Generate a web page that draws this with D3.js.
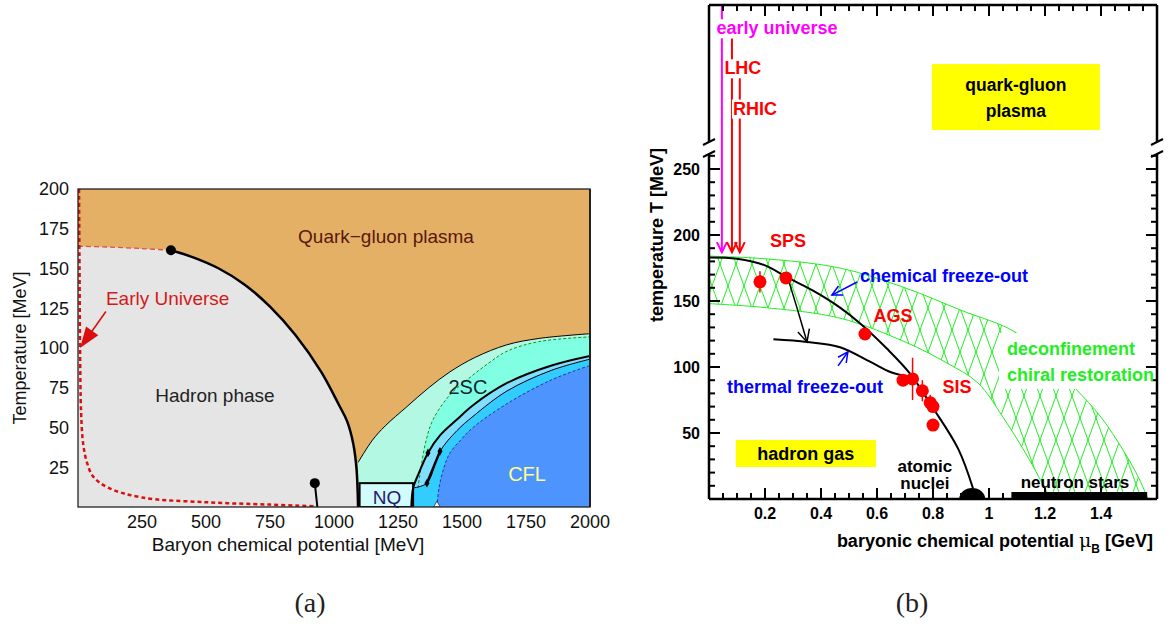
<!DOCTYPE html>
<html>
<head>
<meta charset="utf-8">
<script src="https://cdn.jsdelivr.net/npm/d3@7"></script>
<style>
body { margin: 0; background: #fff; }
svg { display: block; }
text { font-family: "Liberation Sans", Arial, Helvetica, sans-serif; }
</style>
</head>
<body>
<div id="svg-container"></div>
<script>
// ---------- panel (a): QCD phase diagram, MeV ----------
var tempTicksA = [25, 50, 75, 100, 125, 150, 175, 200];
var muTicksA = [250, 500, 750, 1000, 1250, 1500, 1750, 2000];

var crossoverA = [[0, 164], [120, 163.5], [250, 162.5], [363, 161.5]];
var hadronBoundaryA = [[363, 161.5], [450, 157], [550, 150], [650, 140], [750, 126], [850, 108],
	[950, 85], [1020, 64], [1051, 54], [1075, 40], [1088, 24], [1094, 0]];
var critPointA = [363, 161.5];
var nuclearPointA = [[925, 15], [935, 0]];
var earlyUniverseA = [[4, 200], [6, 150], [8, 100], [12, 60], [20, 40], [35, 28], [60, 19],
	[120, 12], [250, 6], [500, 3], [750, 1.5], [930, 0.4]];
var nqBoxA = [[1100, 0], [1309, 15]];
var sc2UpperA = [[1094, 28], [1150, 42], [1200, 51], [1284, 63], [1370, 75], [1453, 85],
	[1550, 94], [1675, 102], [1800, 106], [2000, 109]];
var gapDashA = [[1328, 12], [1340, 25], [1360, 42], [1387, 55], [1450, 70], [1520, 80],
	[1600, 90], [1676, 98], [1800, 104], [2000, 107]];
var cflThickA = [[1302, 0], [1309, 12], [1328, 20], [1367, 34], [1414, 45], [1480, 55],
	[1543, 64], [1676, 78], [1850, 89], [2000, 95]];
var cflThinA = [[1309, 12], [1363, 15], [1414, 35], [1480, 48], [1543, 57], [1676, 73],
	[1850, 86], [2000, 93]];
var cflDashA = [[1402, 0], [1410, 12], [1430, 25], [1453, 34], [1500, 43], [1543, 50],
	[1676, 65], [1850, 80], [2000, 89]];
var diamondsA = [[1367, 34], [1414, 35], [1363, 15]];
var trianglePointA = [1402, 0];

// ---------- panel (b): freeze-out diagram, GeV / MeV ----------
var tempTicksB = [50, 100, 150, 200, 250];
var muTicksB = [0.2, 0.4, 0.6, 0.8, 1, 1.2, 1.4];

var bandUpperB = [[0, 184], [0.2, 182], [0.468, 175], [0.7, 160], [0.9, 143], [1.093, 126.5],
	[1.2, 106], [1.307, 84], [1.4, 62], [1.479, 37], [1.53, 18], [1.568, 0]];
var bandLowerB = [[0, 148], [0.2, 145], [0.468, 137], [0.7, 119], [0.85, 103], [0.96, 88],
	[1.05, 62], [1.13, 35], [1.2, 8], [1.22, 0]];
var chemFreezeB = [[0, 183], [0.1, 182], [0.2, 177], [0.278, 168], [0.37, 158], [0.468, 145],
	[0.54, 133], [0.635, 114], [0.718, 95], [0.8, 69], [0.89, 38], [0.943, 8]];
var thermFreezeB = [[0.23, 121], [0.35, 119], [0.468, 115], [0.575, 104], [0.65, 96], [0.725, 92]];
var spsArrowB = [[0.282, 167], [0.314, 145], [0.35, 119]];
// [mu, T, error]
var spsPointsB = [[0.182, 164.5, 8], [0.275, 167.5, 0]];
var agsPointsB = [[0.557, 125, 0]];
var sisPointsB = [[0.693, 90, 0], [0.727, 91, 16], [0.762, 82, 8], [0.79, 73, 6], [0.80, 70, 0], [0.80, 56, 0]];
// collider trajectories: [mu, T start, T end]
var earlyUniverseB = [0.046, 374, 187];
var lhcB = [0.082, 349, 187];
var rhicB = [0.11, 320, 187];
var nucleiB = [0.94, 0];
var neutronStarsB = [1.08, 1.565];

function createScale(range, dom) {
	return d3.scaleLinear().range(range).domain(dom);
}

function toL(path) {
	return 'L' + path.slice(1);
}

var svg = d3.select('#svg-container').append('svg')
	.attr('width', 1176)
	.attr('height', 627);
var defs = svg.append('defs');

// ======================= panel (a) =======================
var xA = createScale([78, 590], [0, 2000]);
var yA = createScale([507, 189], [0, 200]);
var lineA = d3.line().x(function(d){ return xA(d[0]) }).y(function(d){ return yA(d[1]) })
	.curve(d3.curveCatmullRom.alpha(0.5));

function rightOf(curve) {
	return lineA(curve) + 'L' + xA(2000) + ',' + yA(0) + 'L' + xA(curve[0][0]) + ',' + yA(0) + 'Z';
}

defs.append('clipPath').attr('id', 'clipA').append('rect')
	.attr('x', xA(0)).attr('y', yA(200))
	.attr('width', xA(2000) - xA(0)).attr('height', yA(0) - yA(200));

var gA = svg.append('g');
var plotA = gA.append('g').attr('clip-path', 'url(#clipA)');

plotA.append('rect')
	.attr('x', xA(0)).attr('y', yA(200))
	.attr('width', xA(2000) - xA(0)).attr('height', yA(0) - yA(200))
	.attr('fill', '#E3B066');
plotA.append('path').attr('d', rightOf(sc2UpperA)).attr('fill', '#B3F8E2');
plotA.append('path').attr('d', rightOf(gapDashA)).attr('fill', '#80FFE3');
plotA.append('path').attr('d', rightOf(cflThickA)).attr('fill', '#33CCFF');
plotA.append('path')
	.attr('d', lineA(cflThickA.slice(1)) + toL(lineA(cflThinA.slice().reverse())) + 'Z')
	.attr('fill', '#80DFFF');
plotA.append('path').attr('d', rightOf(cflDashA)).attr('fill', '#4D94FF');

plotA.append('rect')
	.attr('x', xA(nqBoxA[0][0])).attr('y', yA(nqBoxA[1][1]))
	.attr('width', xA(nqBoxA[1][0]) - xA(nqBoxA[0][0]))
	.attr('height', yA(nqBoxA[0][1]) - yA(nqBoxA[1][1]))
	.attr('fill', '#D2FBFB').attr('stroke', '#000').attr('stroke-width', 2);

plotA.append('path')
	.attr('d', 'M' + xA(0) + ',' + yA(0) + toL(lineA(crossoverA.concat(hadronBoundaryA.slice(1)))) + 'Z')
	.attr('fill', '#E5E5E5');

// phase boundaries
plotA.append('path').attr('d', lineA(sc2UpperA)).attr('fill', 'none').attr('stroke', '#000').attr('stroke-width', 1);
plotA.append('path').attr('d', lineA(gapDashA)).attr('fill', 'none').attr('stroke', '#1E8C1E')
	.attr('stroke-width', 1).attr('stroke-dasharray', '3,2');
plotA.append('path').attr('d', lineA(cflThinA)).attr('fill', 'none').attr('stroke', '#000').attr('stroke-width', 1);
plotA.append('path').attr('d', lineA(cflThickA)).attr('fill', 'none').attr('stroke', '#000').attr('stroke-width', 2);
plotA.append('path').attr('d', lineA(cflDashA)).attr('fill', 'none').attr('stroke', '#1B3A9C')
	.attr('stroke-width', 1).attr('stroke-dasharray', '3,2');
plotA.append('line')
	.attr('x1', xA(diamondsA[1][0])).attr('y1', yA(diamondsA[1][1]))
	.attr('x2', xA(diamondsA[2][0])).attr('y2', yA(diamondsA[2][1]))
	.attr('stroke', '#000').attr('stroke-width', 2.5);
plotA.selectAll('path.diamond').data(diamondsA).enter().append('path')
	.attr('class', 'diamond')
	.attr('d', d3.symbol(d3.symbolDiamond, 22))
	.attr('transform', function(d){ return 'translate(' + xA(d[0]) + ',' + yA(d[1]) + ')' })
	.attr('fill', '#000');
plotA.append('path')
	.attr('d', d3.symbol(d3.symbolTriangle, 18))
	.attr('transform', 'translate(' + xA(trianglePointA[0]) + ',' + (yA(trianglePointA[1]) - 2) + ')')
	.attr('fill', '#fff').attr('stroke', '#000').attr('stroke-width', 0.6);

plotA.append('path').attr('d', lineA(hadronBoundaryA)).attr('fill', 'none').attr('stroke', '#000').attr('stroke-width', 2.5);
plotA.append('path').attr('d', lineA(crossoverA)).attr('fill', 'none').attr('stroke', '#E05050')
	.attr('stroke-width', 1.3).attr('stroke-dasharray', '5,3');
plotA.append('path').attr('d', lineA(earlyUniverseA)).attr('fill', 'none').attr('stroke', '#D81010')
	.attr('stroke-width', 2.5).attr('stroke-dasharray', '4,3');
plotA.append('path').attr('d', d3.line()(nuclearPointA.map(function(d){ return [xA(d[0]), yA(d[1])] })))
	.attr('stroke', '#000').attr('stroke-width', 2).attr('fill', 'none');
plotA.append('circle').attr('cx', xA(nuclearPointA[0][0])).attr('cy', yA(nuclearPointA[0][1])).attr('r', 5).attr('fill', '#000');
plotA.append('circle').attr('cx', xA(critPointA[0])).attr('cy', yA(critPointA[1])).attr('r', 5).attr('fill', '#000');

// early universe arrow
var arrowFrom = [109, 123], arrowTo = [8, 100];
var ax1 = xA(arrowFrom[0]), ay1 = yA(arrowFrom[1]), ax2 = xA(arrowTo[0]), ay2 = yA(arrowTo[1]);
var ang = Math.atan2(ay2 - ay1, ax2 - ax1);
gA.append('line').attr('x1', ax1).attr('y1', ay1)
	.attr('x2', ax2 - 16 * Math.cos(ang)).attr('y2', ay2 - 16 * Math.sin(ang))
	.attr('stroke', '#D81010').attr('stroke-width', 1.6);
gA.append('path')
	.attr('d', 'M0,0L-21,-7.5L-21,7.5Z')
	.attr('transform', 'translate(' + ax2 + ',' + ay2 + ') rotate(' + (ang * 180 / Math.PI) + ')')
	.attr('fill', '#D81010');

// frame
gA.append('rect')
	.attr('x', xA(0)).attr('y', yA(200))
	.attr('width', xA(2000) - xA(0)).attr('height', yA(0) - yA(200))
	.attr('fill', 'none').attr('stroke', '#222').attr('stroke-width', 1.3);
gA.append('line').attr('x1', xA(2000)).attr('x2', xA(2000)).attr('y1', yA(200)).attr('y2', yA(0))
	.attr('stroke', '#222').attr('stroke-width', 2);

// labels
function labelA(txt, mu, t, color, anchor, size) {
	return gA.append('text').text(txt)
		.attr('x', xA(mu)).attr('y', yA(t)).attr('dy', '0.35em')
		.attr('text-anchor', anchor || 'middle')
		.style('font-size', (size || 19) + 'px').style('fill', color);
}
labelA('Quark\u2212gluon plasma', 1203, 170, '#5A180C');
labelA('Early Universe', 109, 131, '#D21A1A', 'start');
labelA('Hadron phase', 535, 70, '#222');
labelA('2SC', 1523, 75.5, '#0F1F33', 'middle', 20);
labelA('NQ', 1207, 6.3, '#2A1670', 'middle', 19);
labelA('CFL', 1754, 21, '#FFFF8C', 'middle', 20);

gA.selectAll('text.ytick').data(tempTicksA).enter().append('text')
	.attr('class', 'ytick').text(function(d){ return d })
	.attr('x', 69).attr('y', function(d){ return yA(d) }).attr('dy', '0.35em')
	.attr('text-anchor', 'end').style('font-size', '18px').style('fill', '#111');
gA.selectAll('text.xtick').data(muTicksA).enter().append('text')
	.attr('class', 'xtick').text(function(d){ return d })
	.attr('x', function(d){ return xA(d) }).attr('y', 528)
	.attr('text-anchor', 'middle').style('font-size', '18px').style('fill', '#111');
gA.append('text').text('Temperature [MeV]')
	.attr('transform', 'translate(26,' + yA(100) + ') rotate(-90)')
	.attr('text-anchor', 'middle').style('font-size', '18px').style('fill', '#111');
gA.append('text').text('Baryon chemical potential [MeV]')
	.attr('x', 288).attr('y', 551)
	.attr('text-anchor', 'middle').style('font-size', '19px').style('fill', '#111');

// ======================= panel (b) =======================
var xB = createScale([709, 1157], [0, 1.6]);
var yB = createScale([499, 169], [0, 250]);
var lineB = d3.line().x(function(d){ return xB(d[0]) }).y(function(d){ return yB(d[1]) })
	.curve(d3.curveCatmullRom.alpha(0.5));
var gB = svg.append('g').style('font-weight', 'bold');
var breakY = [142, 154];

var hatch = defs.append('pattern').attr('id', 'hatch')
	.attr('patternUnits', 'userSpaceOnUse').attr('width', 16).attr('height', 44);
hatch.append('path').attr('d', 'M0,0L16,44M16,0L0,44M-8,22L0,44M16,0L24,22M-8,22L0,0M16,44L24,22')
	.attr('stroke', '#22EE22').attr('stroke-width', 1).attr('fill', 'none');

defs.append('clipPath').attr('id', 'clipB').append('rect')
	.attr('x', xB(0)).attr('y', breakY[1]).attr('width', xB(1.6) - xB(0)).attr('height', yB(0) - breakY[1]);

var plotB = gB.append('g').attr('clip-path', 'url(#clipB)');
plotB.append('path')
	.attr('d', lineB(bandUpperB) + toL(lineB(bandLowerB.slice().reverse())) + 'Z')
	.attr('fill', 'url(#hatch)').attr('stroke', '#22EE22').attr('stroke-width', 1);
plotB.append('rect').attr('x', 999).attr('y', 333).attr('width', 160).attr('height', 56).attr('fill', '#fff');

// yellow boxes
function yellowBox(mu0, mu1, t0, t1) {
	return gB.append('rect')
		.attr('x', xB(mu0)).attr('y', yB(t1))
		.attr('width', xB(mu1) - xB(mu0)).attr('height', yB(t0) - yB(t1))
		.attr('fill', '#FFFF00');
}
yellowBox(0.796, 1.396, 279.5, 329.5);
yellowBox(0.096, 0.596, 24.2, 44.7);

// freeze-out curves
plotB.append('path').attr('d', lineB(thermFreezeB)).attr('fill', 'none').attr('stroke', '#000').attr('stroke-width', 2);
plotB.append('path').attr('d', lineB(chemFreezeB)).attr('fill', 'none').attr('stroke', '#000').attr('stroke-width', 2);

function openArrow(sel, pts, color, width, head) {
	var p = pts.map(function(d){ return [xB(d[0]), yB(d[1])] });
	sel.append('path').attr('d', d3.line().curve(d3.curveCatmullRom)(p))
		.attr('fill', 'none').attr('stroke', color).attr('stroke-width', width);
	var a = p[p.length - 1], b = p[p.length - 2];
	var ang = Math.atan2(a[1] - b[1], a[0] - b[0]) * 180 / Math.PI;
	sel.append('path').attr('d', 'M' + (-head) + ',' + (-head * 0.5) + 'L0,0L' + (-head) + ',' + (head * 0.5))
		.attr('transform', 'translate(' + a[0] + ',' + a[1] + ') rotate(' + ang + ')')
		.attr('fill', 'none').attr('stroke', color).attr('stroke-width', width);
}
openArrow(gB, spsArrowB, '#000', 1.5, 12);
openArrow(gB, [[0.529, 164.4], [0.439, 154.5]], '#0000FF', 1.5, 10);
openArrow(gB, [[0.461, 100.8], [0.496, 111.4]], '#0000FF', 1.5, 10);

// collider / early-universe trajectories
[[earlyUniverseB, '#FF00FF'], [lhcB, '#FF0000'], [rhicB, '#FF0000']].forEach(function(c) {
	openArrow(gB, [[c[0][0], c[0][1]], [c[0][0], c[0][2]]], c[1], 2, 10);
});

// freeze-out data points
var pointsB = spsPointsB.concat(agsPointsB, sisPointsB);
gB.selectAll('line.err').data(pointsB.filter(function(d){ return d[2] > 0 })).enter().append('line')
	.attr('class', 'err')
	.attr('x1', function(d){ return xB(d[0]) }).attr('x2', function(d){ return xB(d[0]) })
	.attr('y1', function(d){ return yB(d[1] - d[2]) }).attr('y2', function(d){ return yB(d[1] + d[2]) })
	.attr('stroke', '#FF0000').attr('stroke-width', 1.5);
gB.selectAll('circle.pt').data(pointsB).enter().append('circle')
	.attr('class', 'pt')
	.attr('cx', function(d){ return xB(d[0]) }).attr('cy', function(d){ return yB(d[1]) })
	.attr('r', 6.5).attr('fill', '#FF0000');

// nuclei and neutron stars
gB.append('path')
	.attr('d', d3.arc()({innerRadius: 0, outerRadius: 13, startAngle: -Math.PI / 2, endAngle: Math.PI / 2}))
	.attr('transform', 'translate(' + xB(nucleiB[0]) + ',' + yB(nucleiB[1]) + ') scale(1,0.85)')
	.attr('fill', '#000');
gB.append('rect')
	.attr('x', xB(neutronStarsB[0])).attr('y', yB(0) - 7)
	.attr('width', xB(neutronStarsB[1]) - xB(neutronStarsB[0])).attr('height', 7)
	.attr('fill', '#000');

// frame with axis break
function vline(x, y1, y2) {
	gB.append('line').attr('x1', x).attr('x2', x).attr('y1', y1).attr('y2', y2)
		.attr('stroke', '#000').attr('stroke-width', 2.5);
}
gB.append('line').attr('x1', xB(0)).attr('x2', xB(1.6)).attr('y1', 5).attr('y2', 5).attr('stroke', '#000').attr('stroke-width', 2.5);
gB.append('line').attr('x1', xB(0)).attr('x2', xB(1.6)).attr('y1', yB(0)).attr('y2', yB(0)).attr('stroke', '#000').attr('stroke-width', 2.5);
[xB(0), xB(1.6)].forEach(function(x) {
	vline(x, 5, breakY[0]);
	vline(x, breakY[1], yB(0));
	breakY.forEach(function(y) {
		gB.append('line').attr('x1', x - 6).attr('y1', y + 3).attr('x2', x + 6).attr('y2', y - 3)
			.attr('stroke', '#000').attr('stroke-width', 2);
	});
});

// ticks
var minorT = d3.range(10, 261, 10);
[[xB(0), 1], [xB(1.6), -1]].forEach(function(s) {
	gB.selectAll(null).data(minorT).enter().append('line')
		.attr('x1', s[0]).attr('x2', function(d){ return s[0] + s[1] * (d % 50 === 0 ? 11 : 6) })
		.attr('y1', function(d){ return yB(d) }).attr('y2', function(d){ return yB(d) })
		.attr('stroke', '#000').attr('stroke-width', 2);
});
var minorMu = d3.range(1, 32).map(function(i){ return i * 0.05 });
gB.selectAll(null).data(minorMu).enter().append('line')
	.attr('x1', function(d){ return xB(d) }).attr('x2', function(d){ return xB(d) })
	.attr('y1', yB(0)).attr('y2', function(d, i){ return yB(0) - ((i + 1) % 4 === 0 ? 11 : 6) })
	.attr('stroke', '#000').attr('stroke-width', 2);
gB.selectAll(null).data(minorMu).enter().append('line')
	.attr('x1', function(d){ return xB(d) }).attr('x2', function(d){ return xB(d) })
	.attr('y1', 5).attr('y2', function(d, i){ return 5 + ((i + 1) % 4 === 0 ? 11 : 6) })
	.attr('stroke', '#000').attr('stroke-width', 2);

gB.selectAll('text.ytick').data(tempTicksB).enter().append('text')
	.attr('class', 'ytick').text(function(d){ return d })
	.attr('x', 700).attr('y', function(d){ return yB(d) }).attr('dy', '0.35em')
	.attr('text-anchor', 'end').style('font-size', '16px');
gB.selectAll('text.xtick').data(muTicksB).enter().append('text')
	.attr('class', 'xtick').text(function(d){ return d })
	.attr('x', function(d){ return xB(d) }).attr('y', 519)
	.attr('text-anchor', 'middle').style('font-size', '16px');
gB.append('text').text('temperature T [MeV]')
	.attr('transform', 'translate(663,' + yB(200) + ') rotate(-90)')
	.attr('text-anchor', 'middle').style('font-size', '18px');
var xt = gB.append('text').attr('x', 1153).attr('y', 547).attr('text-anchor', 'end').style('font-size', '18px');
xt.append('tspan').text('baryonic chemical potential ');
xt.append('tspan').text('\u03bc').style('font-weight', 'normal').style('font-family', 'DejaVu Serif').style('font-size', '19px');
xt.append('tspan').text('B').attr('dy', 6).style('font-size', '12px');
xt.append('tspan').text(' [GeV]').attr('dy', -6);

function labelB(txt, mu, t, color, anchor, size, bg) {
	var t0 = gB.append('text').text(txt)
		.attr('x', xB(mu)).attr('y', yB(t)).attr('dy', '0.35em')
		.attr('text-anchor', anchor || 'middle')
		.style('font-size', (size || 18) + 'px').style('fill', color);
	if (bg) {
		var bb = t0.node().getBBox();
		gB.insert('rect', function(){ return t0.node() })
			.attr('x', bb.x - 1).attr('y', bb.y + 1).attr('width', bb.width + 2).attr('height', bb.height - 1)
			.attr('fill', '#fff');
	}
	return t0;
}
labelB('early universe', 0.243, 356.8, '#FF00FF', 'middle', 18, true);
labelB('LHC', 0.121, 326.5, '#FF0000', 'middle', 18, true);
labelB('RHIC', 0.164, 296, '#FF0000', 'middle', 18, true);
labelB('quark-gluon', 1.096, 313.6, '#000', 'middle', 17.5);
labelB('plasma', 1.096, 294, '#000', 'middle', 17.5);
labelB('SPS', 0.282, 196, '#FF0000');
labelB('AGS', 0.657, 139, '#FF0000');
labelB('SIS', 0.886, 85, '#FF0000');
labelB('chemical freeze-out', 0.539, 169, '#0000FF', 'start', 18);
labelB('thermal freeze-out', 0.343, 85, '#0000FF', 'middle', 18);
labelB('deconfinement', 1.064, 114, '#22EE22', 'start');
labelB('chiral restoration', 1.064, 94, '#22EE22', 'start');
labelB('hadron gas', 0.346, 34, '#000');
labelB('atomic', 0.771, 25, '#000', 'middle', 17);
labelB('nuclei', 0.771, 12, '#000', 'middle', 17);
labelB('neutron stars', 1.307, 13, '#000', 'middle', 17);

// captions
svg.append('text').text('(a)').attr('x', 310).attr('y', 612).attr('text-anchor', 'middle')
	.style('font-family', '"Liberation Serif", "DejaVu Serif", serif').style('font-size', '28px').style('fill', '#222');
svg.append('text').text('(b)').attr('x', 912).attr('y', 612).attr('text-anchor', 'middle')
	.style('font-family', '"Liberation Serif", "DejaVu Serif", serif').style('font-size', '28px').style('fill', '#222');
</script>
</body>
</html>
